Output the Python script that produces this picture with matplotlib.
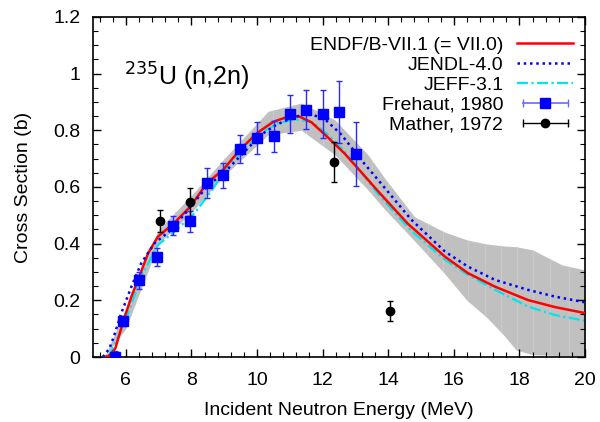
import matplotlib
matplotlib.use("Agg")
import matplotlib.pyplot as plt
from matplotlib.lines import Line2D
from matplotlib.legend_handler import HandlerLine2D, HandlerTuple
from matplotlib.ticker import MultipleLocator

plt.rcParams['font.family'] = ['Liberation Sans', 'DejaVu Sans']

# ENDF/B-VII.1 evaluation
endf_e = [5.35, 5.5, 5.68, 5.92, 6.17, 6.41, 6.68, 6.98, 7.45, 7.97, 8.48, 8.97, 9.48,
          10.0, 10.5, 11.0, 11.3, 11.66, 12.16, 12.67, 13.18, 13.69, 14.6, 15.73,
          16.43, 17.26, 18.26, 19.09, 20.0]
endf_xs = [0.0, 0.005, 0.03, 0.125, 0.213, 0.284, 0.366, 0.425, 0.47, 0.531, 0.614, 0.661,
           0.731, 0.79, 0.83, 0.85, 0.848, 0.828, 0.775, 0.718, 0.652, 0.585, 0.47, 0.354,
           0.296, 0.248, 0.201, 0.176, 0.155]

# JENDL-4.0
jendl_e = [5.3, 5.5, 5.63, 5.86, 6.17, 6.47, 6.88, 7.39, 7.9, 8.5, 9.0, 9.5, 10.13, 10.6,
           11.1, 11.55, 12.06, 12.57, 13.18, 13.69, 14.7, 15.73, 16.43, 17.26, 18.26,
           19.09, 20.0]
jendl_xs = [0.0, 0.03, 0.07, 0.154, 0.248, 0.331, 0.402, 0.449, 0.519, 0.605, 0.65, 0.71,
            0.785, 0.82, 0.845, 0.86, 0.84, 0.785, 0.695, 0.625, 0.485, 0.372, 0.319,
            0.272, 0.237, 0.213, 0.193]

# JEFF-3.1
jeff_e = [5.45, 5.6, 5.95, 6.47, 6.98, 7.49, 8.1, 8.6, 9.12, 9.63, 10.13, 10.64, 11.15,
          11.66, 12.16, 12.67, 13.18, 13.69, 14.7, 15.73, 16.43, 17.26, 18.26, 19.09, 20.0]
jeff_xs = [0.0, 0.03, 0.115, 0.284, 0.395, 0.443, 0.508, 0.584, 0.675, 0.735, 0.79, 0.825,
           0.838, 0.83, 0.785, 0.725, 0.652, 0.575, 0.445, 0.343, 0.29, 0.237, 0.178,
           0.148, 0.128]

# uncertainty band
band_e = [5.35, 6.0, 7.0, 8.0, 9.0, 10.34, 11.35, 12.37, 13.38, 13.9, 14.8, 15.7, 16.4,
          17.0, 17.5, 17.9, 18.4, 19.3, 20.0]
band_hi = [0.0, 0.17, 0.45, 0.57, 0.70, 0.867, 0.896, 0.837, 0.714, 0.63, 0.495, 0.442,
           0.413, 0.399, 0.392, 0.389, 0.378, 0.325, 0.307]
band_lo = [0.0, 0.10, 0.40, 0.51, 0.64, 0.784, 0.80, 0.714, 0.59, 0.52, 0.41, 0.297, 0.20,
           0.14, 0.08, 0.025, 0.008, 0.005, 0.005]
# energy grid of the covariance data (faint seams inside the band)
band_grid = [6.5, 7.0, 7.5, 8.0, 8.5, 9.0, 9.5, 10.0, 10.5, 11.0, 11.5, 12.0, 12.5, 13.0,
             13.5, 14.0, 14.5, 15.2, 15.67, 16.43, 16.95, 17.44, 17.93, 18.41, 18.93, 19.5]

# Frehaut, 1980
frehaut_e = [5.68, 5.92, 6.41, 6.95, 7.45, 7.97, 8.48, 8.97, 9.48, 10.0, 10.52, 11.02,
             11.5, 12.02, 12.5, 13.02]
frehaut_xs = [0.0, 0.127, 0.271, 0.353, 0.463, 0.479, 0.614, 0.642, 0.734, 0.773, 0.778,
              0.858, 0.873, 0.858, 0.865, 0.716]
frehaut_err = [0.02, 0.018, 0.03, 0.033, 0.034, 0.037, 0.054, 0.044, 0.05, 0.057, 0.055,
               0.067, 0.068, 0.085, 0.109, 0.112]

# Mather, 1972
mather_e = [7.04, 7.95, 12.34, 14.05]
mather_xs = [0.48, 0.548, 0.688, 0.162]
mather_err = [0.04, 0.049, 0.069, 0.036]

fig = plt.figure(figsize=(6.0, 4.22), dpi=100)
ax = fig.add_axes([0.155, 0.154, 0.82, 0.806])

band = ax.fill_between(band_e, band_lo, band_hi, color='#c0c0c0', linewidth=0, zorder=1)
seams = ax.vlines(band_grid, 0, 1.2, color='#cdcdcd', lw=0.6, zorder=1.5)
seams.set_clip_path(band.get_paths()[0], band.get_transform())

ax.plot(endf_e, endf_xs, color='#ff0000', lw=1.8, zorder=3)
ax.plot(jendl_e, jendl_xs, color='#0000ff', lw=1.8, ls=(0, (1, 1.5)), zorder=3)
ax.plot(jeff_e, jeff_xs, color='#00e5ee', lw=1.6, ls=(0, (5, 1.5, 1, 1.5)), zorder=2)

ax.errorbar(frehaut_e, frehaut_xs, yerr=frehaut_err, fmt='s', color='#0000ff',
            ecolor='#2a2aff', elinewidth=1.0, capsize=2.5, markersize=7.5, zorder=4)
ax.errorbar(mather_e, mather_xs, yerr=mather_err, fmt='o', color='black',
            ecolor='black', elinewidth=1.0, capsize=2.5, markersize=6, zorder=4)

ax.set_xlim(5, 20)
ax.set_ylim(0, 1.2)
ax.xaxis.set_major_locator(MultipleLocator(2))
ax.xaxis.set_minor_locator(MultipleLocator(0.4))
ax.yaxis.set_major_locator(MultipleLocator(0.2))
ax.yaxis.set_minor_locator(MultipleLocator(0.05))
ax.set_yticks([0, 0.2, 0.4, 0.6, 0.8, 1.0, 1.2])
ax.set_yticklabels(['0', '0.2', '0.4', '0.6', '0.8', '1', '1.2'])
ax.tick_params(which='both', direction='in', top=True, right=True, labelsize=14)
ax.tick_params(which='major', length=6, width=1)
ax.tick_params(which='minor', length=3.5, width=0.8)
ax.tick_params(axis='x', pad=11)
ax.tick_params(axis='y', pad=9)
for s in ax.spines.values():
    s.set_linewidth(1.2)

ax.set_xlabel('Incident Neutron Energy (MeV)', fontsize=14, labelpad=9)
ax.set_ylabel('Cross Section (b)', fontsize=14, labelpad=15)
ax.text(5.95, 0.99, r'$^{235}$U (n,2n)', fontsize=18, ha='left', va='center')

# gnuplot style legend samples
h_endf = Line2D([], [], color='#ff0000', lw=1.8)
h_jendl = Line2D([], [], color='#0000ff', lw=1.8, ls=(0, (1, 1.5)))
h_jeff = Line2D([], [], color='#00e5ee', lw=1.6, ls=(0, (5, 1.5, 1, 1.5)))
fr_bar = Line2D([], [], color='#6a6aff', lw=1.2, marker='|', markersize=6)
fr_mk = Line2D([], [], color='#0000ff', marker='s', markersize=7.5, ls='none')
ma_bar = Line2D([], [], color='black', lw=1.0, marker='|', markersize=6)
ma_mk = Line2D([], [], color='black', marker='o', markersize=6, ls='none')

leg = ax.legend([h_endf, h_jendl, h_jeff, (fr_bar, fr_mk), (ma_bar, ma_mk)],
                ['ENDF/B-VII.1 (= VII.0)', 'JENDL-4.0', 'JEFF-3.1',
                 'Frehaut, 1980', 'Mather, 1972'],
                loc='upper right', bbox_to_anchor=(1.0, 0.978), frameon=False,
                markerfirst=False, fontsize=14, handlelength=2.9, handletextpad=0.7,
                labelspacing=0.12, numpoints=1, borderaxespad=0.2,
                handler_map={fr_bar: HandlerLine2D(numpoints=2),
                             ma_bar: HandlerLine2D(numpoints=2),
                             tuple: HandlerTuple(ndivide=1)})
for t in leg.get_texts():
    t.set_ha('right')

fig.savefig('out.png', dpi=100)
